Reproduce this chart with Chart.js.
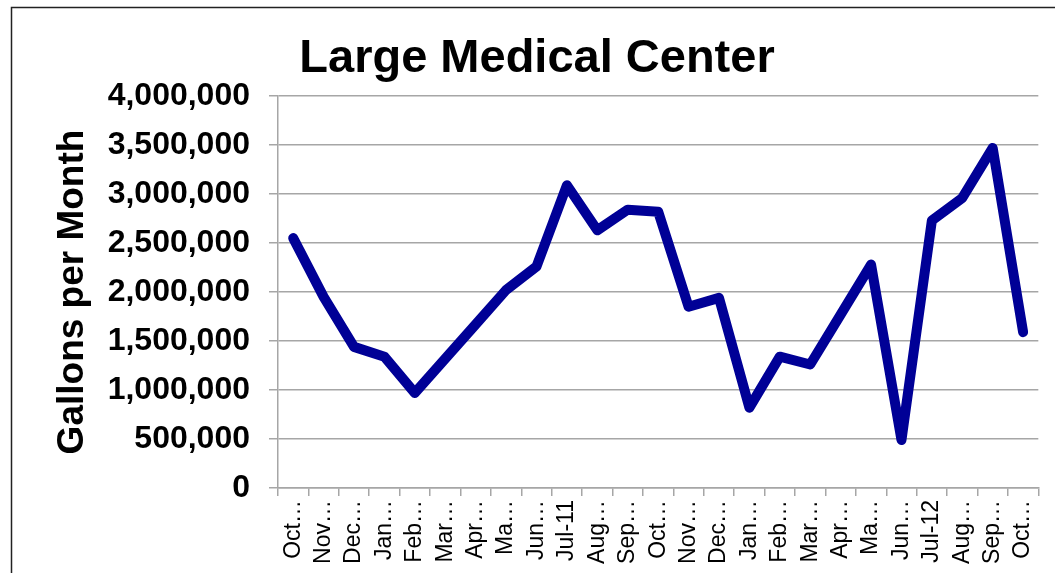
<!DOCTYPE html>
<html>
<head>
<meta charset="utf-8">
<script src="https://cdn.jsdelivr.net/npm/chart.js@4/dist/chart.umd.min.js"></script>
<style>
  html, body { margin: 0; padding: 0; background: #fff; }
  canvas { display: block; }
</style>
</head>
<body>
<canvas id="grafico" width="1055" height="573"></canvas>
<script>
// Datos
const meses = ['Oct…', 'Nov…', 'Dec…', 'Jan…', 'Feb…', 'Mar…', 'Apr…', 'Ma…', 'Jun…', 'Jul-11',
  'Aug…', 'Sep…', 'Oct…', 'Nov…', 'Dec…', 'Jan…', 'Feb…', 'Mar…', 'Apr…', 'Ma…', 'Jun…', 'Jul-12',
  'Aug…', 'Sep…', 'Oct…'];
const galones = [2550000, 1950000, 1440000, 1340000, 970000, 1320000, 1670000, 2020000, 2260000, 3090000,
  2630000, 2840000, 2820000, 1850000, 1940000, 820000, 1340000, 1260000, 1770000, 2280000, 490000, 2730000,
  2960000, 3470000, 1590000];
const titulo = 'Large Medical Center';
const tituloEje = 'Gallons per Month';

const GRIS = '#a6a6a6';

// Marco exterior + título centrado
const decoracion = {
  id: 'decoracion',
  beforeDraw(chart) {
    const c = chart.ctx;
    c.save();
    c.strokeStyle = '#222';
    c.lineWidth = 1.5;
    c.strokeRect(11.5, 7.5, 2000, 2000);
    c.restore();
  },
  afterDraw(chart) {
    const c = chart.ctx;
    c.save();
    c.fillStyle = '#000';
    c.font = 'bold 47px "Liberation Sans", Arial, sans-serif';
    c.textAlign = 'center';
    c.textBaseline = 'alphabetic';
    c.fillText(titulo, 537, 72);
    c.restore();
  }
};

new Chart(document.getElementById('grafico'), {
  type: 'line',
  data: {
    labels: meses,
    datasets: [{
      label: tituloEje,
      data: galones,
      borderColor: '#000096',
      borderWidth: 10,
      borderJoinStyle: 'round',
      borderCapStyle: 'round',
      pointRadius: 0,
      tension: 0,
      fill: false,
    }]
  },
  options: {
    responsive: false,
    animation: false,
    layout: { padding: { left: 0, top: 96, right: 14, bottom: 0 } },
    plugins: {
      legend: { display: false },
      title: { display: false },
      tooltip: { enabled: false }
    },
    scales: {
      x: {
        offset: true,
        afterFit: s => { s.height = 85; },
        border: { color: GRIS, width: 1.5 },
        grid: { offset: true, drawOnChartArea: false, color: GRIS, lineWidth: 1.5, tickLength: 8 },
        ticks: {
          autoSkip: false,
          minRotation: 90, maxRotation: 90,
          padding: 4,
          color: '#000',
          font: { family: '"Liberation Sans", Arial, sans-serif', size: 23 }
        }
      },
      y: {
        min: 0, max: 4000000,
        afterFit: s => { s.width = 278; },
        border: { color: GRIS, width: 1.5 },
        grid: { color: GRIS, lineWidth: 1.5, tickLength: 9 },
        ticks: {
          stepSize: 500000,
          padding: 19,
          color: '#000',
          font: { family: '"Liberation Sans", Arial, sans-serif', size: 32, weight: 'bold' },
          callback: v => v.toLocaleString('en-US')
        },
        title: {
          display: true,
          text: tituloEje,
          color: '#000',
          padding: { top: 51, bottom: 0 },
          font: { family: '"Liberation Sans", Arial, sans-serif', size: 37, weight: 'bold' }
        }
      }
    }
  },
  plugins: [decoracion]
});
</script>
</body>
</html>
